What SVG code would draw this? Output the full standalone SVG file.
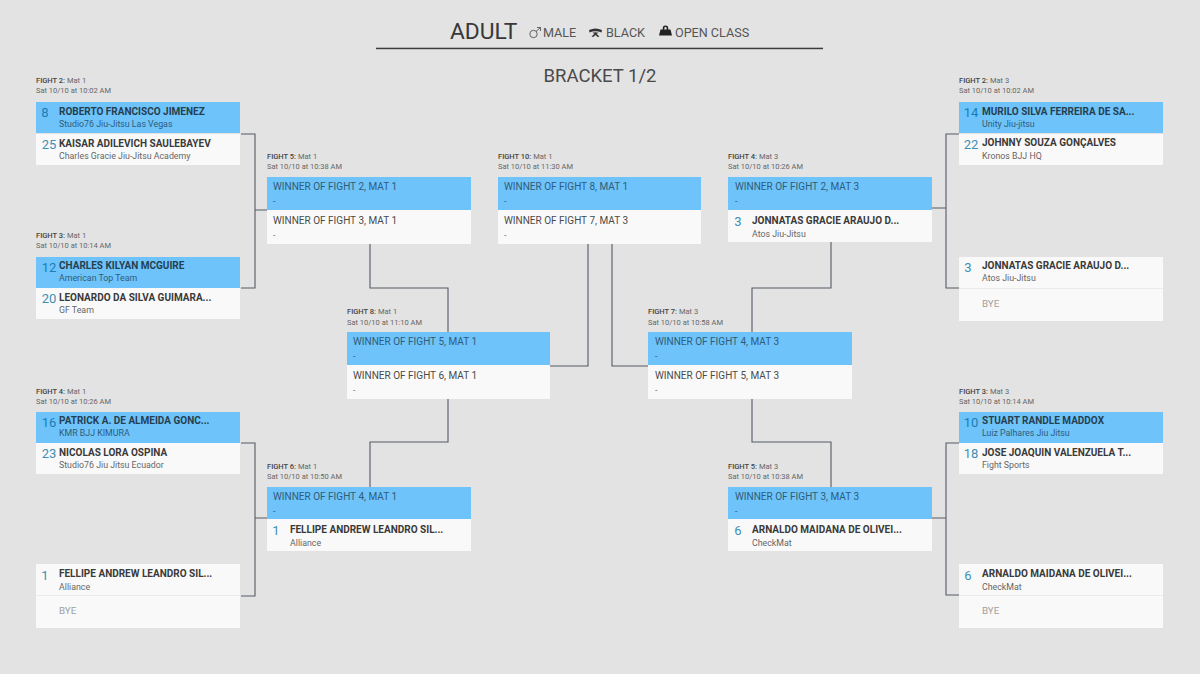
<svg xmlns="http://www.w3.org/2000/svg" width="1200" height="674" viewBox="0 0 1200 674">
<style>
text{font-family:Roboto,"Liberation Sans",sans-serif;fill:#3a3a3a}
.bg{fill:#e3e3e3}
.b{fill:#6ec3fb}
.w{fill:#f9f9f9}
.sep{stroke:#ececec;stroke-width:1}
.c{fill:none;stroke:#555c66;stroke-width:1.1}
.t1{font-size:7.500px;fill:#666}
.t1 tspan{font-weight:500;fill:#444}
.t2{font-size:7.500px;fill:#666}
.n{font-size:10px;font-weight:700;fill:#3a3a3a}
.a{font-size:8.800px;fill:#666}
.s{font-size:13px;fill:#3d8fb5;text-anchor:middle}
.win{font-size:10px;fill:#4a4a4a}
.dash{font-size:9px;fill:#777}
.bye{font-size:9.800px;fill:#a0a0a0}
.onb{fill:#2f5c78}
.n.onb{fill:#263f50}
.s.onb{fill:#1a7db5}
.h{font-size:12.600px;fill:#555}
</style>
<rect class="bg" width="1200" height="674"/>
<g id="header">
<text x="450" y="39" style="font-size:22.800px;fill:#383838">ADULT</text>
<circle cx="533.500" cy="34" r="3.700" fill="none" stroke="#555" stroke-width=".9"/><path d="M536 31.500L540.500 27.500M537 27.500H540.500V31" fill="none" stroke="#555" stroke-width=".9"/>
<text x="543" y="37" class="h">MALE</text>
<path d="M589 30q6.500-3 13 0l-.5 2.500q-6-2.500-12 0zM591.500 36.500l3-2.700q-1.500-.5-2.200-1l3.200-.5 3.200 .5q-.7 .5-2.200 1l3 2.700-1.800 .5-2.200-2-2.200 2z" fill="#333"/>
<text x="606" y="37" class="h">BLACK</text>
<path d="M659 35.500l1.500-6h2.300q-.6-4 2.700-4t2.700 4h2.300l1.500 6zM664.300 29.500h2.400q.3-2.700-1.200-2.700t-1.200 2.700z" fill="#222" fill-rule="evenodd"/>
<text x="675" y="37" class="h">OPEN CLASS</text>
<rect x="376" y="47.700" width="447" height="1.500" fill="#3c3c3c"/>
<text x="600" y="82" text-anchor="middle" style="font-size:18.500px;fill:#4a4a4a">BRACKET 1/2</text>
</g>
<g id="connectors">
<path class="c" d="M241 134H255V288H241M255 210H267"/>
<path class="c" d="M241 443H255V596H241M255 518H267"/>
<path class="c" d="M370 244V288H448V332"/>
<path class="c" d="M370 487V442H448V399"/>
<path class="c" d="M550 366H588V244"/>
<path class="c" d="M648 366H612V244"/>
<path class="c" d="M831 242V288H752V332"/>
<path class="c" d="M831 487V442H752V399"/>
<path class="c" d="M959 134H946V288H959M946 208H932"/>
<path class="c" d="M959 443H946V595H959M946 518H932"/>
</g>
<g id="l-fight2">
<text class="t1" x="36" y="83"><tspan>FIGHT 2:</tspan> Mat 1</text><text class="t2" x="36" y="93">Sat 10/10 at 10:02 AM</text>
<rect class="b" x="36" y="102" width="204" height="31"/><rect class="w" x="36" y="134" width="204" height="31"/>
<text class="s onb" x="45" y="117">8</text><text class="n onb" x="59" y="115">ROBERTO FRANCISCO JIMENEZ</text><text class="a onb" x="59" y="127">Studio76 Jiu-Jitsu Las Vegas</text>
<text class="s" x="49" y="149">25</text><text class="n" x="59" y="147">KAISAR ADILEVICH SAULEBAYEV</text><text class="a" x="59" y="159">Charles Gracie Jiu-Jitsu Academy</text>
</g>
<g id="l-fight3">
<text class="t1" x="36" y="238"><tspan>FIGHT 3:</tspan> Mat 1</text><text class="t2" x="36" y="248">Sat 10/10 at 10:14 AM</text>
<rect class="b" x="36" y="257" width="204" height="31"/><rect class="w" x="36" y="288" width="204" height="31"/>
<text class="s onb" x="49" y="272">12</text><text class="n onb" x="59" y="269">CHARLES KILYAN MCGUIRE</text><text class="a onb" x="59" y="281">American Top Team</text>
<text class="s" x="49" y="303">20</text><text class="n" x="59" y="301">LEONARDO DA SILVA GUIMARA...</text><text class="a" x="59" y="313">GF Team</text>
</g>
<g id="l-fight4">
<text class="t1" x="36" y="394"><tspan>FIGHT 4:</tspan> Mat 1</text><text class="t2" x="36" y="404">Sat 10/10 at 10:26 AM</text>
<rect class="b" x="36" y="412" width="204" height="31"/><rect class="w" x="36" y="443" width="204" height="31"/>
<text class="s onb" x="49" y="427">16</text><text class="n onb" x="59" y="424">PATRICK A. DE ALMEIDA GONC...</text><text class="a onb" x="59" y="436">KMR BJJ KIMURA</text>
<text class="s" x="49" y="458">23</text><text class="n" x="59" y="456">NICOLAS LORA OSPINA</text><text class="a" x="59" y="468">Studio76 Jiu Jitsu Ecuador</text>
</g>
<g id="l-bye">
<rect class="w" x="36" y="564" width="204" height="64"/><path class="sep" d="M36 595.500H240"/>
<text class="s" x="45" y="580">1</text><text class="n" x="59" y="577">FELLIPE ANDREW LEANDRO SIL...</text><text class="a" x="59" y="590">Alliance</text>
<text class="bye" x="59" y="614">BYE</text>
</g>
<g id="fight5-m1">
<text class="t1" x="267" y="159"><tspan>FIGHT 5:</tspan> Mat 1</text><text class="t2" x="267" y="169">Sat 10/10 at 10:38 AM</text>
<rect class="b" x="267" y="177" width="204" height="33"/><rect class="w" x="267" y="210" width="204" height="34"/>
<text class="win onb" x="273" y="190">WINNER OF FIGHT 2, MAT 1</text><text class="dash onb" x="273" y="204">-</text>
<text class="win" x="273" y="224">WINNER OF FIGHT 3, MAT 1</text><text class="dash" x="273" y="238">-</text>
</g>
<g id="fight10">
<text class="t1" x="498" y="159"><tspan>FIGHT 10:</tspan> Mat 1</text><text class="t2" x="498" y="169">Sat 10/10 at 11:30 AM</text>
<rect class="b" x="498" y="177" width="203" height="33"/><rect class="w" x="498" y="210" width="203" height="34"/>
<text class="win onb" x="504" y="190">WINNER OF FIGHT 8, MAT 1</text><text class="dash onb" x="504" y="204">-</text>
<text class="win" x="504" y="224">WINNER OF FIGHT 7, MAT 3</text><text class="dash" x="504" y="238">-</text>
</g>
<g id="fight4-m3">
<text class="t1" x="728" y="159"><tspan>FIGHT 4:</tspan> Mat 3</text><text class="t2" x="728" y="169">Sat 10/10 at 10:26 AM</text>
<rect class="b" x="728" y="177" width="204" height="33"/><rect class="w" x="728" y="210" width="204" height="32"/>
<text class="win onb" x="735" y="190">WINNER OF FIGHT 2, MAT 3</text><text class="dash onb" x="735" y="204">-</text>
<text class="s" x="738" y="226">3</text><text class="n" x="752" y="224">JONNATAS GRACIE ARAUJO D...</text><text class="a" x="752" y="237">Atos Jiu-Jitsu</text>
</g>
<g id="fight8">
<text class="t1" x="347" y="314"><tspan>FIGHT 8:</tspan> Mat 1</text><text class="t2" x="347" y="325">Sat 10/10 at 11:10 AM</text>
<rect class="b" x="347" y="332" width="203" height="33"/><rect class="w" x="347" y="365" width="203" height="34"/>
<text class="win onb" x="353" y="345">WINNER OF FIGHT 5, MAT 1</text><text class="dash onb" x="353" y="359">-</text>
<text class="win" x="353" y="379">WINNER OF FIGHT 6, MAT 1</text><text class="dash" x="353" y="393">-</text>
</g>
<g id="fight7">
<text class="t1" x="648" y="314"><tspan>FIGHT 7:</tspan> Mat 3</text><text class="t2" x="648" y="325">Sat 10/10 at 10:58 AM</text>
<rect class="b" x="648" y="332" width="204" height="33"/><rect class="w" x="648" y="365" width="204" height="34"/>
<text class="win onb" x="655" y="345">WINNER OF FIGHT 4, MAT 3</text><text class="dash onb" x="655" y="359">-</text>
<text class="win" x="655" y="379">WINNER OF FIGHT 5, MAT 3</text><text class="dash" x="655" y="393">-</text>
</g>
<g id="fight6-m1">
<text class="t1" x="267" y="469"><tspan>FIGHT 6:</tspan> Mat 1</text><text class="t2" x="267" y="479">Sat 10/10 at 10:50 AM</text>
<rect class="b" x="267" y="487" width="204" height="32"/><rect class="w" x="267" y="519" width="204" height="32"/>
<text class="win onb" x="273" y="500">WINNER OF FIGHT 4, MAT 1</text><text class="dash onb" x="273" y="514">-</text>
<text class="s" x="276" y="535">1</text><text class="n" x="290" y="533">FELLIPE ANDREW LEANDRO SIL...</text><text class="a" x="290" y="546">Alliance</text>
</g>
<g id="fight5-m3">
<text class="t1" x="728" y="469"><tspan>FIGHT 5:</tspan> Mat 3</text><text class="t2" x="728" y="479">Sat 10/10 at 10:38 AM</text>
<rect class="b" x="728" y="487" width="204" height="32"/><rect class="w" x="728" y="519" width="204" height="32"/>
<text class="win onb" x="735" y="500">WINNER OF FIGHT 3, MAT 3</text><text class="dash onb" x="735" y="514">-</text>
<text class="s" x="738" y="535">6</text><text class="n" x="752" y="533">ARNALDO MAIDANA DE OLIVEI...</text><text class="a" x="752" y="546">CheckMat</text>
</g>
<g id="r-fight2">
<text class="t1" x="959" y="83"><tspan>FIGHT 2:</tspan> Mat 3</text><text class="t2" x="959" y="93">Sat 10/10 at 10:02 AM</text>
<rect class="b" x="959" y="102" width="204" height="31"/><rect class="w" x="959" y="134" width="204" height="31"/>
<text class="s onb" x="971" y="117">14</text><text class="n onb" x="982" y="115">MURILO SILVA FERREIRA DE SA...</text><text class="a onb" x="982" y="127">Unity Jiu-jitsu</text>
<text class="s" x="971" y="149">22</text><text class="n" x="982" y="146">JOHNNY SOUZA GONÇALVES</text><text class="a" x="982" y="159">Kronos BJJ HQ</text>
</g>
<g id="r-bye3">
<rect class="w" x="959" y="257" width="204" height="64"/><path class="sep" d="M959 288.500H1163"/>
<text class="s" x="968" y="272">3</text><text class="n" x="982" y="269">JONNATAS GRACIE ARAUJO D...</text><text class="a" x="982" y="281">Atos Jiu-Jitsu</text>
<text class="bye" x="982" y="307">BYE</text>
</g>
<g id="r-fight3">
<text class="t1" x="959" y="394"><tspan>FIGHT 3:</tspan> Mat 3</text><text class="t2" x="959" y="404">Sat 10/10 at 10:14 AM</text>
<rect class="b" x="959" y="412" width="204" height="31"/><rect class="w" x="959" y="443" width="204" height="31"/>
<text class="s onb" x="971" y="427">10</text><text class="n onb" x="982" y="424">STUART RANDLE MADDOX</text><text class="a onb" x="982" y="436">Luiz Palhares Jiu Jitsu</text>
<text class="s" x="971" y="458">18</text><text class="n" x="982" y="456">JOSE JOAQUIN VALENZUELA T...</text><text class="a" x="982" y="468">Fight Sports</text>
</g>
<g id="r-bye6">
<rect class="w" x="959" y="564" width="204" height="64"/><path class="sep" d="M959 595.500H1163"/>
<text class="s" x="968" y="580">6</text><text class="n" x="982" y="577">ARNALDO MAIDANA DE OLIVEI...</text><text class="a" x="982" y="590">CheckMat</text>
<text class="bye" x="982" y="614">BYE</text>
</g>
</svg>
